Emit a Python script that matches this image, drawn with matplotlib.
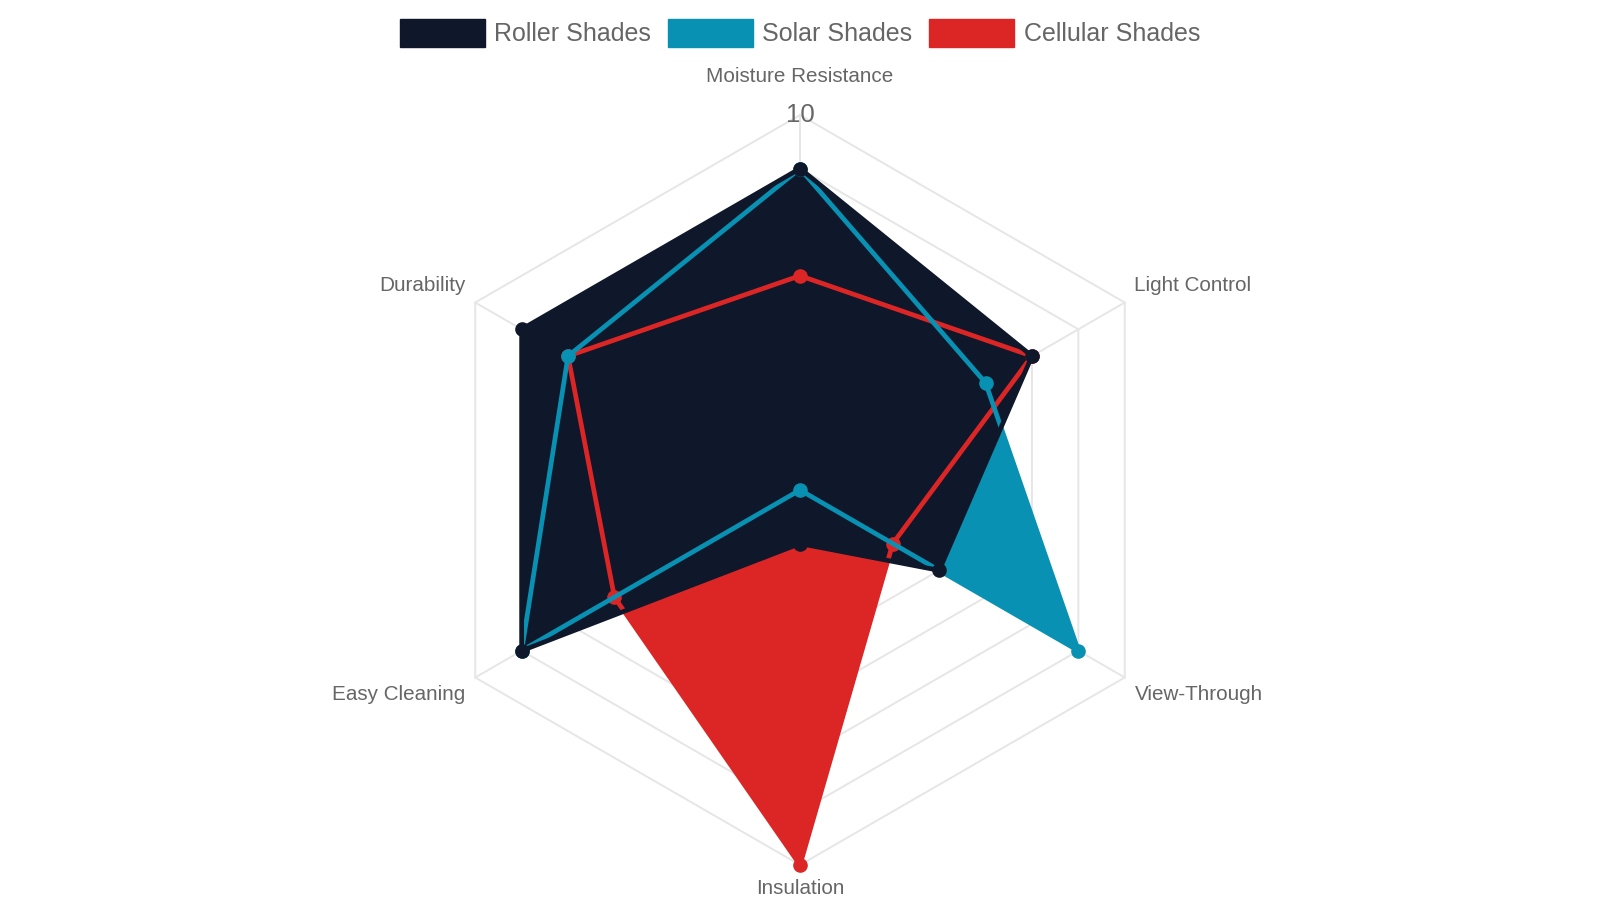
import numpy as np
import matplotlib
matplotlib.use("Agg")
import matplotlib.pyplot as plt
from matplotlib.patches import Patch

plt.rcParams['font.family'] = ['Liberation Sans', 'DejaVu Sans']

# dados
eixos = ['Moisture Resistance', 'Light Control', 'View-Through',
         'Insulation', 'Easy Cleaning', 'Durability']
roller = [9, 8, 6, 4, 9, 9]
solar = [9, 7, 9, 3, 9, 8]
cellular = [7, 8, 5, 10, 7, 8]
series = ['Roller Shades', 'Solar Shades', 'Cellular Shades']
cores = ['#0f172a', '#0891b2', '#dc2626']
r_min, r_max = 3, 10
ticks = list(range(4, 11))

cinza_grade = '#e6e6e6'
cinza_texto = '#666666'

fig = plt.figure(figsize=(16, 9), dpi=100)
ax = fig.add_axes([0.265625, 0.03889, 0.46875, 0.83333], projection='polar')
ax.set_theta_offset(np.pi / 2)
ax.set_theta_direction(-1)
ax.set_ylim(r_min, r_max)
ax.grid(False)
ax.set_xticks([])
ax.set_yticks([])
ax.spines['polar'].set_visible(False)
ax.patch.set_visible(False)

n = len(eixos)
ang = np.linspace(0, 2 * np.pi, n, endpoint=False)
ang_f = np.append(ang, ang[0])

# grade hexagonal
for t in ticks:
    ax.plot(ang_f, [t] * (n + 1), color=cinza_grade, lw=1.4, zorder=1, clip_on=False)
for a in ang:
    ax.plot([a, a], [r_min, r_max], color=cinza_grade, lw=1.4, zorder=1, clip_on=False)

valores = [roller, solar, cellular]
# preenchimentos: o primeiro conjunto fica por cima
for i in range(2, -1, -1):
    v = np.append(valores[i], valores[i][0])
    ax.fill(ang_f, v, color=cores[i], alpha=1.0, zorder=2 + (2 - i), lw=0, clip_on=False)
# linhas e pontos
for i in range(2, -1, -1):
    v = np.append(valores[i], valores[i][0])
    ax.plot(ang_f, v, color=cores[i], lw=3.4, zorder=6 + (2 - i), clip_on=False,
            solid_joinstyle='miter')
    ax.plot(ang, valores[i], 'o', color=cores[i], ms=9.5, zorder=6 + (2 - i), clip_on=False)

# rotulos dos eixos
offsets = [(0, 28, 'center', 'center'), (7, 12.5, 'left', 'center'),
           (7, -12.5, 'left', 'center'), (0, -17, 'center', 'center'),
           (-7, -12.5, 'right', 'center'), (-7, 12.5, 'right', 'center')]
for a, nome, (dx, dy, ha, va) in zip(ang, eixos, offsets):
    ax.annotate(nome, xy=(a, r_max), xytext=(dx, dy), textcoords='offset points',
                ha=ha, va=va, fontsize=14.9, color=cinza_texto, annotation_clip=False)

ax.annotate(str(r_max), xy=(0, r_max), xytext=(0, 0), textcoords='offset points',
            ha='center', va='center', fontsize=18.5, color=cinza_texto, zorder=1,
            annotation_clip=False)

handles = [Patch(facecolor=c, edgecolor=c) for c in cores]
leg = fig.legend(handles, series, loc='center', bbox_to_anchor=(0.5, 1 - 33 / 900),
                 ncol=3, frameon=False, fontsize=18, handlelength=3.4,
                 handleheight=1.3, handletextpad=0.37, columnspacing=0.68)
for txt in leg.get_texts():
    txt.set_color(cinza_texto)

fig.savefig('out.png', dpi=100)
